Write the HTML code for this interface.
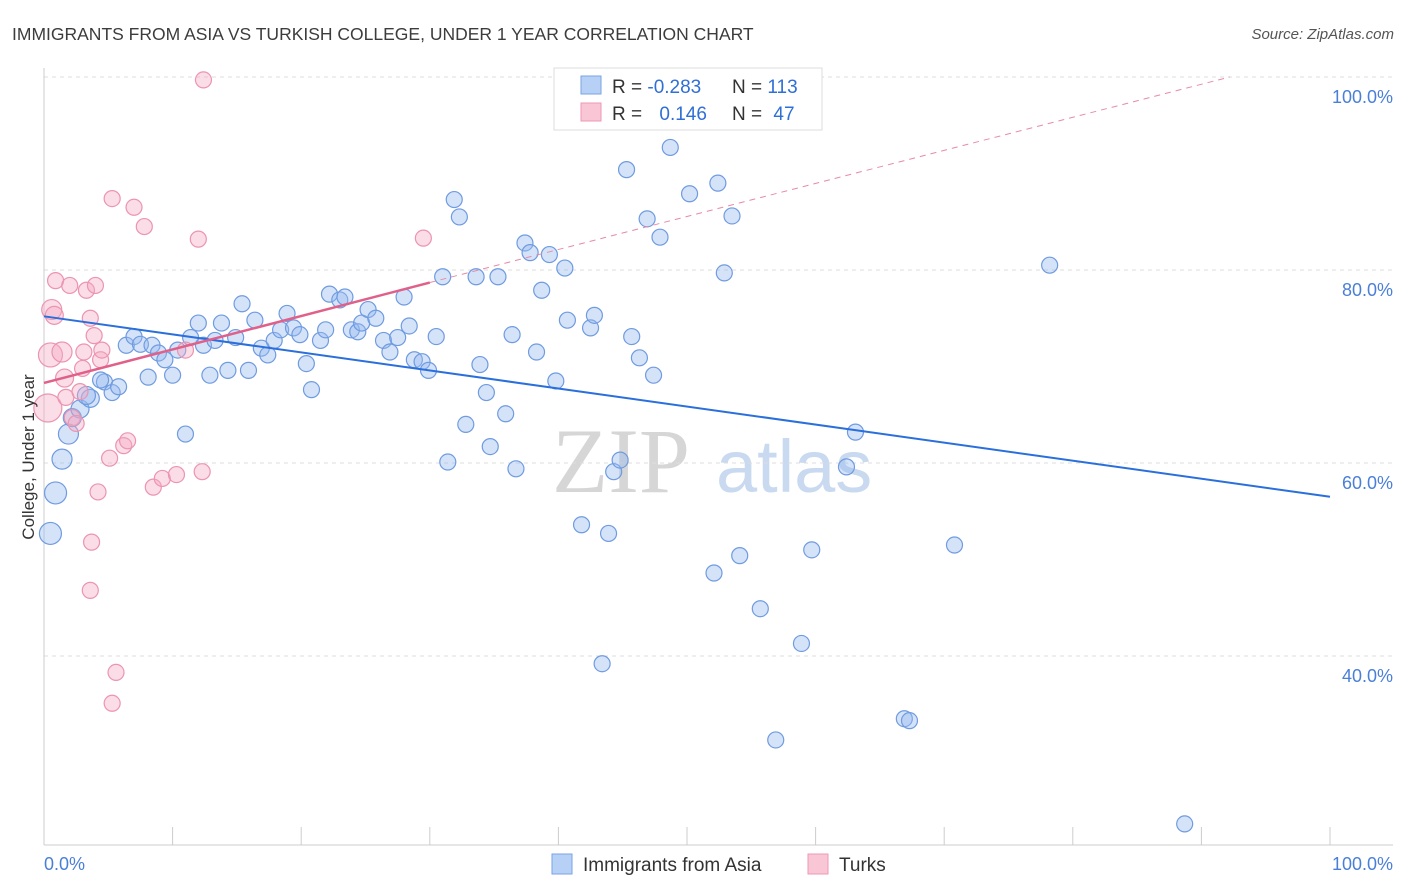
<!DOCTYPE html>
<html><head><meta charset="utf-8"><style>
body{margin:0;background:#fff;font-family:"Liberation Sans",sans-serif;}
svg{display:block}
</style></head><body>
<svg id="chart" width="1406" height="892" viewBox="0 0 1406 892">
<text x="12" y="40" font-size="17.5" fill="#3c3c3c">IMMIGRANTS FROM ASIA VS TURKISH COLLEGE, UNDER 1 YEAR CORRELATION CHART</text>
<text x="1394" y="39" font-size="15" fill="#555" font-style="italic" text-anchor="end">Source: ZipAtlas.com</text>
<g>
<text x="552" y="492" font-size="92" font-family="Liberation Serif,serif" fill="#d6d6d6">ZIP</text>
<text x="716" y="492" font-size="74" fill="#c8d9f0">atlas</text>
</g>
<g id="grid"></g>
<g id="axes"></g>
<g id="marks"></g>
<g>
<rect x="554" y="68" width="268" height="62" fill="#fff" stroke="#ddd"/>
<rect x="581" y="76" width="20" height="18" fill="#b7d0f5" stroke="#7aa3e5"/>
<rect x="581" y="103" width="20" height="18" fill="#f8c6d4" stroke="#ee9ab4"/>
<text x="612" y="93" font-size="19" fill="#333">R = <tspan fill="#2f6fd6">-0.283</tspan></text>
<text x="732" y="93" font-size="19" fill="#333">N = <tspan fill="#2f6fd6">113</tspan></text>
<text x="612" y="120" font-size="19" fill="#333">R = <tspan fill="#2f6fd6" dx="12">0.146</tspan></text>
<text x="732" y="120" font-size="19" fill="#333">N = <tspan fill="#2f6fd6" dx="6">47</tspan></text>
</g>
<g>
<rect x="552" y="854" width="20" height="20" fill="#b7d0f5" stroke="#7aa3e5"/>
<text x="583" y="871" font-size="19" fill="#333">Immigrants from Asia</text>
<rect x="808" y="854" width="20" height="20" fill="#f8c6d4" stroke="#ee9ab4"/>
<text x="839" y="871" font-size="19" fill="#333">Turks</text>
</g>
<text transform="translate(34,457) rotate(-90)" font-size="17" fill="#333" text-anchor="middle">College, Under 1 year</text>
</svg>
<script>
const yTicks=[40,60,80,100];
const yTickLabels=["40.0%","60.0%","80.0%","100.0%"];
const xTickValues=[0,10,20,30,40,50,60,70,80,90,100];
const asiaX=[0.5,0.9,1.4,1.9,2.2,2.8,3.6,3.3,4.7,5.3,5.8,4.4,6.4,7.0,7.5,8.1,8.4,8.9,9.4,10.0,10.4,11.0,11.4,12.0,12.4,12.9,13.3,13.8,14.3,14.9,15.4,15.9,16.4,16.9,17.4,17.9,18.4,18.9,19.4,19.9,20.4,20.8,21.5,21.9,22.2,23.0,23.4,23.9,24.4,24.7,25.2,25.8,26.4,26.9,27.5,28.0,28.4,28.8,29.4,29.9,30.5,31.0,31.4,31.9,32.3,32.8,33.6,33.9,34.4,34.7,35.3,35.9,36.4,36.7,37.4,37.8,38.3,38.7,39.3,39.8,40.5,40.7,41.8,42.5,42.8,43.4,43.9,44.3,44.8,45.3,45.7,46.3,46.9,47.4,47.9,48.7,50.2,52.1,52.4,52.9,53.5,54.1,55.7,56.9,58.9,59.7,62.4,63.1,66.9,67.3,70.8,78.2,88.7];
const asiaY=[52.7,56.9,60.4,63.0,64.7,65.6,66.7,67.0,68.4,67.3,67.9,68.6,72.2,73.1,72.3,68.9,72.2,71.4,70.7,69.1,71.7,63.0,73.0,74.5,72.2,69.1,72.7,74.5,69.6,73.0,76.5,69.6,74.8,71.9,71.2,72.7,73.8,75.5,74.0,73.3,70.3,67.6,72.7,73.8,77.5,76.9,77.2,73.8,73.6,74.5,75.9,75.0,72.7,71.5,73.0,77.2,74.2,70.7,70.5,69.6,73.1,79.3,60.1,87.3,85.5,64.0,79.3,70.2,67.3,61.7,79.3,65.1,73.3,59.4,82.8,81.8,71.5,77.9,81.6,68.5,80.2,74.8,53.6,74.0,75.3,39.2,52.7,59.1,60.3,90.4,73.1,70.9,85.3,69.1,83.4,92.7,87.9,48.6,89.0,79.7,85.6,50.4,44.9,31.3,41.3,51.0,59.6,63.2,33.5,33.3,51.5,80.5,22.6];
const asiaSize=[11,11,10,10,9,9,9,9,8,8,8,8,8,8,8,8,8,8,8,8,8,8,8,8,8,8,8,8,8,8,8,8,8,8,8,8,8,8,8,8,8,8,8,8,8,8,8,8,8,8,8,8,8,8,8,8,8,8,8,8,8,8,8,8,8,8,8,8,8,8,8,8,8,8,8,8,8,8,8,8,8,8,8,8,8,8,8,8,8,8,8,8,8,8,8,8,8,8,8,8,8,8,8,8,8,8,8,8,8,8,8,8,8];
const turkX=[0.3,0.5,0.6,0.8,0.9,1.4,1.6,1.7,2.0,2.2,2.5,2.8,3.0,3.1,3.3,3.6,3.7,3.9,4.0,4.2,4.4,4.5,3.6,5.1,5.3,5.6,5.3,6.2,6.5,7.0,7.8,8.5,9.2,10.3,11.0,12.0,12.3,12.4,29.5];
const turkY=[65.7,71.2,75.9,75.3,78.9,71.5,68.8,66.8,78.4,64.7,64.1,67.4,69.8,71.5,77.9,75.0,51.8,73.2,78.4,57.0,70.7,71.7,46.8,60.5,87.4,38.3,35.1,61.8,62.3,86.5,84.5,57.5,58.4,58.8,71.7,83.2,59.1,99.7,83.3];
const turkSize=[14,12,10,9,8,10,9,8,8,8,8,8,8,8,8,8,8,8,8,8,8,8,8,8,8,8,8,8,8,8,8,8,8,8,8,8,8,8,8];
const asiaTrend=[75.2,56.5];
const turkTrend=[68.3,78.7,100.0];

const X0=44,X1=1330,YTOP=77,YPX=9.65;
const sx=v=>X0+(X1-X0)*v/100;
const sy=v=>YTOP+(100-v)*YPX;
const NS="http://www.w3.org/2000/svg";
function mk(tag,attrs,parent){const e=document.createElementNS(NS,tag);for(const k in attrs)e.setAttribute(k,attrs[k]);parent.appendChild(e);return e;}
const grid=document.getElementById('grid'),axes=document.getElementById('axes'),marks=document.getElementById('marks');
yTicks.forEach((t,i)=>{
 const l=mk('line',{x1:X0,x2:1393,y1:sy(t),y2:sy(t),stroke:'#ddd','stroke-dasharray':'4,4'},grid);
 
 
 const tx=mk('text',{x:1393,y:sy(t)+26,'font-size':18,fill:'#4a7fd8','text-anchor':'end'},axes);
 tx.textContent=yTickLabels[i];
 
 
});
const ya=mk('line',{x1:X0,x2:X0,y1:68,y2:845,stroke:'#ccc'},axes);


const xa=mk('line',{x1:X0,x2:1393,y1:845,y2:845,stroke:'#ccc'},axes);


xTickValues.forEach(v=>{
 const t=mk('line',{x1:sx(v),x2:sx(v),y1:827,y2:845,stroke:'#ccc'},axes);
 
 
});
const xl0=mk('text',{x:44,y:870,'font-size':18,fill:'#4a7fd8'},axes);xl0.textContent='0.0%';


const xl1=mk('text',{x:1393,y:870,'font-size':18,fill:'#4a7fd8','text-anchor':'end'},axes);xl1.textContent='100.0%';



asiaX.forEach((v,i)=>{
 const c=mk('circle',{cx:sx(v),cy:sy(asiaY[i]),r:asiaSize[i],fill:'rgba(150,185,240,0.4)',stroke:'#6f9be0','stroke-width':1.2},marks);
 
 
});
turkX.forEach((v,i)=>{
 const c=mk('circle',{cx:sx(v),cy:sy(turkY[i]),r:turkSize[i],fill:'rgba(245,170,195,0.4)',stroke:'#ec94b0','stroke-width':1.2},marks);
 
 
});
const ta=mk('line',{x1:sx(0),y1:sy(asiaTrend[0]),x2:sx(100),y2:sy(asiaTrend[1]),stroke:'#2a6fdb','stroke-width':2},marks);


const td=mk('line',{x1:sx(30),y1:sy(turkTrend[1]),x2:sx(92.2),y2:sy(turkTrend[2]),stroke:'#e68aa8','stroke-width':1,'stroke-dasharray':'6,5'},marks);


const tt=mk('line',{x1:sx(0),y1:sy(turkTrend[0]),x2:sx(30),y2:sy(turkTrend[1]),stroke:'#e0608a','stroke-width':2.5},marks);


</script>
</body></html>
